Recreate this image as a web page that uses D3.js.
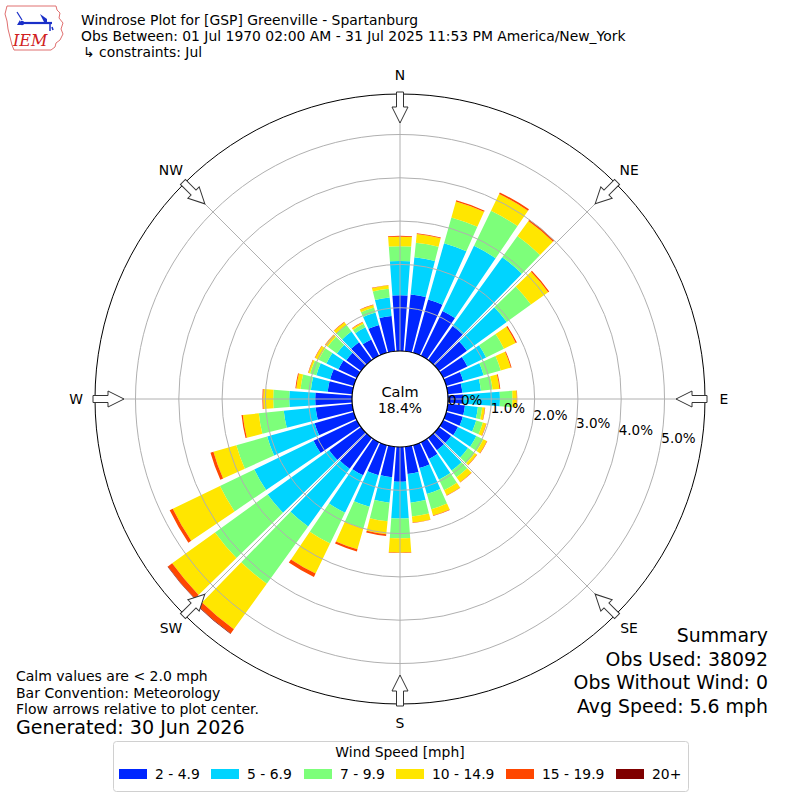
<!DOCTYPE html>
<html>
<head>
<meta charset="utf-8">
<script src="https://cdn.jsdelivr.net/npm/d3@7"></script>
<style>
body { margin: 0; background: #fff; }
svg { font-family: 'DejaVu Sans', sans-serif; }
</style>
</head>
<body>
<svg id="rose" width="800" height="800"></svg>
<script>
// wind directions (deg, met convention) and the percent of obs in each speed bin
var directions = [0, 10, 20, 30, 40, 50, 60, 70, 80, 90, 100, 110, 120, 130, 140, 150, 160, 170,
    180, 190, 200, 210, 220, 230, 240, 250, 260, 270, 280, 290, 300, 310, 320, 330, 340, 350];
var speed2to5 = [1.29, 1.32, 1.28, 1.15, 0.97, 0.80, 0.62, 0.41, 0.34, 0.35, 0.40, 0.40, 0.38, 0.35, 0.35, 0.43, 0.55, 0.63,
    0.80, 0.71, 0.72, 0.85, 0.88, 0.91, 1.11, 0.94, 0.85, 0.85, 0.57, 0.57, 0.47, 0.42, 0.51, 0.42, 0.67, 0.82];
var speed5to7 = [0.79, 0.86, 1.35, 1.67, 1.96, 1.13, 0.48, 0.49, 0.43, 0.85, 0.30, 0.32, 0.47, 0.48, 0.58, 0.53, 0.62, 0.67,
    0.85, 0.59, 0.76, 0.96, 1.64, 1.75, 1.52, 1.14, 0.74, 0.60, 0.39, 0.33, 0.31, 0.27, 0.30, 0.31, 0.30, 0.43];
var speed7to10 = [0.34, 0.34, 0.62, 0.90, 0.60, 0.69, 0.46, 0.41, 0.27, 0.29, 0.10, 0.16, 0.18, 0.19, 0.19, 0.27, 0.37, 0.32,
    0.46, 0.43, 0.52, 0.79, 1.63, 1.50, 0.88, 0.74, 0.58, 0.37, 0.24, 0.15, 0.20, 0.26, 0.19, 0.09, 0.12, 0.20];
var speed10to15 = [0.22, 0.20, 0.38, 0.43, 0.43, 0.49, 0.30, 0.24, 0.16, 0.10, 0.06, 0.08, 0.09, 0.06, 0.14, 0.13, 0.15, 0.14,
    0.33, 0.30, 0.50, 0.77, 1.30, 1.22, 1.21, 0.55, 0.37, 0.23, 0.10, 0.04, 0.09, 0.07, 0.08, 0.04, 0.06, 0.08];
var speed15to20 = [0.02, 0.02, 0.03, 0.04, 0.04, 0.03, 0.03, 0.02, 0.02, 0.01, 0.01, 0.01, 0.01, 0.01, 0.01, 0.01, 0.01, 0.01,
    0.01, 0.04, 0.05, 0.09, 0.12, 0.12, 0.08, 0.07, 0.03, 0.02, 0.02, 0.01, 0.01, 0.01, 0.01, 0.01, 0.01, 0.01];
var speed20plus = [0, 0, 0, 0, 0, 0, 0, 0, 0, 0, 0, 0, 0, 0, 0, 0, 0, 0,
    0, 0, 0, 0, 0.01, 0.01, 0, 0, 0, 0, 0, 0, 0, 0, 0, 0, 0, 0];

var speedLabels = ['2 - 4.9', '5 - 6.9', '7 - 9.9', '10 - 14.9', '15 - 19.9', '20+'];
var radialTicks = [0, 1, 2, 3, 4, 5];
var compassNames = ['N', 'NE', 'E', 'SE', 'S', 'SW', 'W', 'NW'];
var compassAngles = [0, 45, 90, 135, 180, 225, 270, 315];
var calmPct = '18.4%';
var titleLines = ['Windrose Plot for [GSP] Greenville - Spartanburg',
    'Obs Between: 01 Jul 1970 02:00 AM - 31 Jul 2025 11:53 PM America/New_York',
    '\u21b3 constraints: Jul'];
var noteLines = ['Calm values are < 2.0 mph', 'Bar Convention: Meteorology', 'Flow arrows relative to plot center.'];
var generatedLine = 'Generated: 30 Jun 2026';
var summaryLines = ['Summary', 'Obs Used: 38092', 'Obs Without Wind: 0', 'Avg Speed: 5.6 mph'];

var CX = 400, CY = 399;
var keys = ['s0', 's1', 's2', 's3', 's4', 's5'];
var colors = ['#0026ff', '#00d4ff', '#7dff7a', '#ffe600', '#ff4700', '#7f0000'];

var table = directions.map(function (d, i) {
    return {
        dir: d,
        s0: speed2to5[i], s1: speed5to7[i], s2: speed7to10[i],
        s3: speed10to15[i], s4: speed15to20[i], s5: speed20plus[i]
    };
});
var stacked = d3.stack().keys(keys)(table);

var r = d3.scaleLinear().domain([0, 5.935]).range([48, 305]);
var ang = d3.scaleLinear().domain([0, 360]).range([0, 2 * Math.PI]);
var half = ang(10) * 0.84 / 2;
var color = d3.scaleOrdinal().domain(keys).range(colors);

var svg = d3.select('#rose');
var plot = svg.append('g').attr('transform', 'translate(' + CX + ',' + CY + ')');

var arc = d3.arc()
    .innerRadius(function (d) { return r(d[0]); })
    .outerRadius(function (d) { return r(d[1]); })
    .startAngle(function (d) { return ang(d.data.dir) - half; })
    .endAngle(function (d) { return ang(d.data.dir) + half; });

plot.selectAll('g.bin')
    .data(stacked)
    .enter()
    .append('g')
    .attr('class', 'bin')
    .attr('fill', function (d) { return color(d.key); })
    .selectAll('path')
    .data(function (d) { return d.filter(function (s) { return s[1] - s[0] > 0; }); })
    .enter()
    .append('path')
    .attr('d', arc);

// grid
plot.selectAll('circle.ring')
    .data(radialTicks.slice(1))
    .enter()
    .append('circle')
    .attr('class', 'ring')
    .attr('r', function (d) { return r(d); })
    .attr('fill', 'none')
    .attr('stroke', '#b0b0b0')
    .attr('stroke-width', 1);

plot.selectAll('line.spoke')
    .data(compassAngles)
    .enter()
    .append('line')
    .attr('x1', 0).attr('y1', 0)
    .attr('x2', function (d) { return r.range()[1] * Math.sin(ang(d)); })
    .attr('y2', function (d) { return -r.range()[1] * Math.cos(ang(d)); })
    .attr('stroke', '#b0b0b0')
    .attr('stroke-width', 1);

plot.append('circle')
    .attr('r', r(0))
    .attr('fill', '#fff')
    .attr('stroke', '#000')
    .attr('stroke-width', 1.2);

plot.append('circle')
    .attr('r', r.range()[1])
    .attr('fill', 'none')
    .attr('stroke', '#000')
    .attr('stroke-width', 1);

// flow arrows
var arrowPts = [[0, -276], [8, -292], [3.5, -292], [3.5, -307], [-3.5, -307], [-3.5, -292], [-8, -292]];
plot.selectAll('path.arrow')
    .data(compassAngles)
    .enter()
    .append('path')
    .attr('class', 'arrow')
    .attr('d', 'M' + arrowPts.join('L') + 'Z')
    .attr('transform', function (d) { return 'rotate(' + d + ')'; })
    .attr('fill', '#fff')
    .attr('stroke', '#333')
    .attr('stroke-width', 1);

plot.selectAll('text.compass')
    .data(compassNames)
    .enter()
    .append('text')
    .attr('x', function (d, i) { return 324 * Math.sin(ang(compassAngles[i])); })
    .attr('y', function (d, i) { return -324 * Math.cos(ang(compassAngles[i])); })
    .attr('dy', '0.35em')
    .attr('text-anchor', 'middle')
    .style('font-size', '13.9px')
    .text(function (d) { return d; });

// radial labels along 100 deg
var labAng = ang(100);
plot.selectAll('text.rlab')
    .data(radialTicks)
    .enter()
    .append('text')
    .attr('x', function (d) { return r(d) * Math.sin(labAng) + 18; })
    .attr('y', function (d) { return -r(d) * Math.cos(labAng) - 7; })
    .attr('dy', '0.35em')
    .attr('text-anchor', 'middle')
    .style('font-size', '13.5px')
    .text(function (d) { return d3.format('.1f')(d) + '%'; });

plot.append('text')
    .attr('y', -2)
    .attr('text-anchor', 'middle')
    .style('font-size', '14.5px')
    .text('Calm');
plot.append('text')
    .attr('y', 13.5)
    .attr('text-anchor', 'middle')
    .style('font-size', '13.9px')
    .text(calmPct);

// titles
svg.selectAll('text.title')
    .data(titleLines)
    .enter()
    .append('text')
    .attr('x', function (d, i) { return i === 2 ? 83 : 81; })
    .attr('y', function (d, i) { return 25 + i * 16; })
    .style('font-size', '13.9px')
    .text(function (d) { return d; });

// IEM logo
var logo = svg.append('g');
logo.append('path')
    .attr('d', 'M7,6 L56,6 L57,10 L60,13 L59,18 L63,23 L61,29 L63,34 L60,40 L56,43 L55,47 L51,50 L14,50 L12,45 L10,37 L8,29 L7,21 L5,14 Z')
    .attr('fill', 'none')
    .attr('stroke', '#e07070')
    .attr('stroke-width', 1);
logo.append('line').attr('x1', 22).attr('y1', 23).attr('x2', 52).attr('y2', 23)
    .attr('stroke', '#1a2fc8').attr('stroke-width', 2.2);
logo.append('path').attr('d', 'M40,14 L47,19 L47,22 L44,22 Z').attr('fill', '#1a2fc8');
logo.append('path').attr('d', 'M17,12 L22,20').attr('stroke', '#1a2fc8').attr('stroke-width', 1.2);
logo.append('circle').attr('cx', 22).attr('cy', 23).attr('r', 2.2).attr('fill', '#1a2fc8');
logo.append('path').attr('d', 'M17,25 L20,20 L21,25 Z').attr('fill', '#1a2fc8');
logo.append('path').attr('d', 'M50,24 L50,31 M52,27 L53,30').attr('stroke', '#1a2fc8').attr('stroke-width', 1.5);
logo.append('text')
    .attr('x', 13).attr('y', 46)
    .style('font-family', "'DejaVu Serif', serif")
    .style('font-style', 'italic')
    .style('font-size', '16px')
    .attr('fill', '#d02020')
    .text('IEM');

// notes
svg.selectAll('text.note')
    .data(noteLines)
    .enter()
    .append('text')
    .attr('x', 16)
    .attr('y', function (d, i) { return 681 + i * 16.7; })
    .style('font-size', '14px')
    .text(function (d) { return d; });
svg.append('text')
    .attr('x', 16).attr('y', 734)
    .style('font-size', '19.1px')
    .text(generatedLine);

svg.selectAll('text.summary')
    .data(summaryLines)
    .enter()
    .append('text')
    .attr('x', 768)
    .attr('y', function (d, i) { return 642 + i * 23.5; })
    .attr('text-anchor', 'end')
    .style('font-size', '18.9px')
    .text(function (d) { return d; });

// legend
var legend = svg.append('g');
legend.append('rect')
    .attr('x', 113.5).attr('y', 741.5).attr('width', 575).attr('height', 50).attr('rx', 3)
    .attr('fill', '#fff').attr('stroke', '#d0d0d0');
legend.append('text')
    .attr('x', 400).attr('y', 757)
    .attr('text-anchor', 'middle')
    .style('font-size', '13.9px')
    .text('Wind Speed [mph]');
var itemX = [119, 211, 304, 396, 506, 616];
var items = legend.selectAll('g.item')
    .data(speedLabels)
    .enter()
    .append('g')
    .attr('transform', function (d, i) { return 'translate(' + itemX[i] + ',769)'; });
items.append('rect')
    .attr('width', 28).attr('height', 10)
    .attr('fill', function (d, i) { return colors[i]; });
items.append('text')
    .attr('x', 36).attr('y', 10)
    .style('font-size', '13.9px')
    .text(function (d) { return d; });
</script>
</body>
</html>
